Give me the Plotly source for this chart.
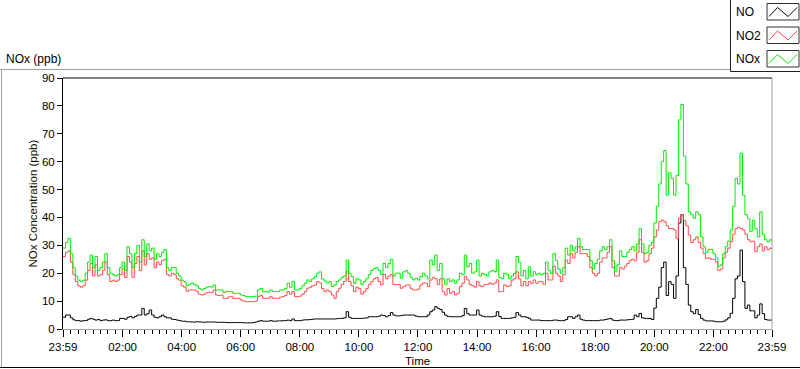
import pandas as pd
import plotly.graph_objects as go

# ---------------- data (5-minute readings, 23:59 -> 23:59) ----------------
start_time = "2024-01-01 23:59"
end_time = "2024-01-02 23:59"
step = "5min"

NOX = [
    29, 31, 32.5, 27, 22, 19, 17.5, 17, 17.5, 20, 24, 26.5, 22, 26, 21, 22, 24, 27, 22, 20, 19.5, 19, 19.5, 22,
    24, 21, 29.5, 27, 22, 27, 30, 24, 32, 26, 30.5, 28, 29, 25, 27, 26, 27.5, 28.5, 22, 21, 22, 22, 20, 19,
    17.5, 17, 15.5, 16, 16.5, 16, 15.5, 14.5, 14, 14.5, 15, 15.2, 15, 15.8, 14, 14, 14, 13, 13.5, 13.4, 13.4, 12.8,
    12.8, 12.8, 12.2, 12, 11.6, 11.6, 11.6, 11.6, 11.8, 14, 14.5, 13.4, 13.4, 13.2, 14, 13.4, 13.4, 13.4, 14, 14,
    14.5, 16.4, 15, 17, 14, 14,
    14.5,
    15.5, 16.4, 17.6, 17, 18, 18.8, 20, 20.5, 18, 17.2, 16.5, 17, 15.2, 15.8, 17, 17.6, 18.5, 19, 24.7, 20, 18.8,
    16.4, 18, 17.6, 16, 17, 18, 19.5, 21, 21.7, 22, 21, 19.6, 23.5, 22, 23.5, 25, 19, 20, 20, 18.2, 20.5, 21, 20,
    18.5, 17.6, 18.2, 17.6,
    18.8, 20, 19, 18, 24.7, 23, 26.5, 21, 23.5, 18, 16, 18, 17, 17.6, 16.4, 17.6, 20, 19.5, 26.5, 22.3, 23.5, 20,
    20.5, 24.7, 19, 20, 19.5, 19, 20.5, 21, 20.5, 24.7, 18.5, 18, 20, 19.6, 18, 19, 20, 26, 24, 19, 21, 18, 22.3,
    19, 20.5, 19.5, 20,
    19.4, 20, 24, 21, 20, 27, 24.5, 21.5, 20, 22, 29, 26.5, 30, 28, 29.5, 32.5, 29.5, 28.5, 28.5, 28.5, 24.5, 21.5,
    23.5, 25, 28, 29.5, 28.5, 29.5, 32, 24.5, 20.5, 23, 28, 26, 26, 27.5, 28.5, 29.5, 28, 30.5, 36, 30.5, 27, 27.5,
    30, 31, 38, 44, 52,
    60, 64, 48, 56, 54, 48, 55, 75, 80.5, 62, 52, 42, 41, 39.7, 42, 41, 33, 29.5, 27.5, 28.5, 28.5, 27, 25.5, 22.5,
    23, 27, 29.5, 31.5, 35.5, 44, 54, 52, 63, 48, 41, 39.5, 35, 39, 36, 33, 42, 34, 32, 31.3, 32, 31.3,
]

NO2 = [
    26, 27.5, 28, 24, 19.5, 17, 15.5, 15, 15.5, 17.5, 21, 23.5, 19, 23, 19, 19.5, 21, 24, 19.5, 17, 17.5, 17, 17.5,
    19.5, 21.5, 18.5, 26, 24, 18.5, 23.5, 26, 21, 28, 23, 27, 25, 25.5, 22, 24, 23, 24.5, 25, 19.5, 19, 20, 19.5,
    18, 17.5,
    15.5, 15, 13.5, 14, 14, 14, 13.5, 12.5, 12.2, 12.5, 13, 13.2, 13, 14, 12.2, 12, 12.2, 11, 11, 11.5, 11.6, 11,
    11, 11, 10.4, 10, 9.8, 9.8, 9.8, 9.8, 10, 11.6, 12, 11, 11, 11, 11.6, 11, 11, 11, 11.4, 11.6, 12, 13.4, 12.5,
    13.4, 11.6, 11.6,
    11.8,
    12.5, 13.4, 14.6, 15, 15.5, 15.8, 17, 16.5, 14.5, 13.4, 14, 13.4, 12.2, 11, 13.4, 14.6, 16, 17, 20.5, 17, 15.5,
    13.4, 15, 14.5, 12.5, 13.4, 14.5, 16, 17, 18, 18.5, 17, 15.8, 19.6, 18, 19, 19.6, 16, 15.8, 16, 14.6, 15.2,
    15.8, 15.8, 14.6, 14, 14, 14.3,
    15.8, 16.5, 16.5, 15.2, 17.6, 18.5, 18, 16, 18, 13.4, 12.2, 14.5, 12.8, 13.4, 12.2, 12.8, 15.2, 16.4, 18.8,
    17.6, 16, 15.5, 15, 17, 15.5, 15.2, 16, 16, 16.5, 16, 16.5, 17.6, 13.4, 13.4, 15.8, 15.2, 15.5, 17.5, 18, 20.5,
    18, 15.5, 17, 15.5, 17, 16.4, 17.6, 16.4, 17,
    17, 16, 20, 17.6, 17.6, 22.5, 20, 19, 17, 19.5, 24.7, 23.5, 27, 25.5, 27.5, 29.5, 27, 27, 27, 26, 22, 20, 19,
    20, 24, 25.5, 25.5, 27.5, 29.5, 22, 19, 19, 22, 21.5, 22.5, 23.5, 24.5, 25, 24.5, 27.5, 32, 27.5, 24, 24.5, 27,
    29, 33, 35.5, 38.5,
    39, 38.5, 37, 36, 36, 35.5, 32.5, 39.7, 41, 39, 37, 33.7, 31, 32, 33, 31, 29, 27, 25.3, 25.5, 25, 25, 24, 21,
    21.5, 25.5, 27.5, 29, 31.3, 34, 36, 36.5, 36, 35.5, 34, 32, 31.3, 31.5, 27.7, 29.5, 30.5, 28, 29.5, 28.5, 29,
    28.5,
]

NO = [
    4.2, 5, 5, 4, 3.3, 3, 3, 2.8, 3, 3, 3.5, 3.8, 3.5, 3.2, 3.4, 3, 3.2, 3.3, 3, 3, 3.2, 3, 3, 3.8, 3.8, 3.5, 4.2,
    4.5, 4, 4.5, 5, 5, 7.4, 5, 5.5, 6.8, 5, 4.2, 4, 4.4, 5, 4.4, 4, 4, 3.5, 3.4, 3.2, 3,
    2.8, 2.8, 2.6, 2.6, 2.5, 2.5, 2.6, 2.5, 2.5, 2.4, 2.5, 2.5, 2.5, 2.5, 2.4, 2.4, 2.4, 2.4, 2.3, 2.3, 2.3, 2.3,
    2.3, 2.3, 2.3, 2.2, 2.2, 2.2, 2.2, 2.3, 2.5, 2.8, 3, 2.8, 2.8, 2.8, 3, 2.8, 2.8, 2.9, 2.9, 3, 3, 3.2, 3, 3.6,
    3, 3,
    3,
    3.2, 3.3, 3.3, 3.4, 3.5, 3.6, 3.6, 3.6, 3.6, 3.6, 3.6, 3.6, 3.6, 3.6, 3.7, 3.8, 3.8, 4, 6.2, 4.2, 3.8, 3.8,
    3.8, 3.8, 3.8, 3.9, 4, 4.4, 4.4, 4.4, 4.4, 4.6, 5, 4.8, 4.4, 4.8, 5.9, 5, 4.7, 4.7, 4.8, 5, 5, 5, 5, 5, 4.6,
    4.4,
    4.4, 4.4, 4.4, 5, 6.2, 6.8, 8, 7.4, 7, 6, 5, 4.5, 4.4, 4.4, 4.4, 4.4, 4.4, 4.8, 7.4, 5.5, 5, 5, 5, 6.8, 5, 4.6,
    4.4, 4.4, 4.4, 4.4, 4.6, 6.2, 4.5, 3.8, 3.8, 3.8, 3.8, 4, 4.2, 5.9, 5, 4.4, 4.4, 4.2, 3.8, 3.2, 3.2, 3.2, 3.2,
    3, 3, 3, 3, 3, 3.2, 3.2, 3, 3, 3, 3.4, 4.4, 4.4, 3.8, 4.4, 5, 3.5, 3.2, 3, 3, 3, 3, 3, 3, 3.2, 3.2, 3.4, 3.6,
    3.8, 3.2, 3, 3, 3.2, 3.2, 3.2, 3.3, 3.4, 3.5, 5, 4.4, 5.6, 4, 3.8, 3.8, 3.8, 3.4, 7.5, 11, 15,
    22, 24, 12, 17, 16, 11, 19, 38, 41, 22, 16, 8.6, 6.2, 5.5, 7, 5.2, 3.8, 3.2, 2.9, 2.9, 2.9, 2.8, 2.6, 2.6, 2.6,
    2.8, 3.3, 4, 5.6, 11, 18, 19, 28.3, 17, 7.4, 8.6, 6.5, 6.5, 4, 5, 9, 5.5, 3.4, 3.2, 3.2, 3.2,
]

SERIES_NAMES = ["NO", "NO2", "NOx"]
TICK_TIMES = ["2024-01-01 23:59", "2024-01-02 02:00", "2024-01-02 04:00", "2024-01-02 06:00",
              "2024-01-02 08:00", "2024-01-02 10:00", "2024-01-02 12:00", "2024-01-02 14:00",
              "2024-01-02 16:00", "2024-01-02 18:00", "2024-01-02 20:00", "2024-01-02 22:00",
              "2024-01-02 23:59"]
TICK_LABELS = ["23:59", "02:00", "04:00", "06:00", "08:00", "10:00", "12:00", "14:00",
               "16:00", "18:00", "20:00", "22:00", "23:59"]
Y_TICKS = [0, 10, 20, 30, 40, 50, 60, 70, 80, 90]

times = pd.date_range(start_time, end_time, freq=step)

# ---------------- layout geometry ----------------
W, H = 800, 369
L, R, T, B = 63, 772, 78, 329   # plot area in pixels

def px(x):
    return (x - L) / (R - L)

def py(y):
    return (B - y) / (B - T)

FONT = "Liberation Sans"
COLORS = {"NO": "#000000", "NO2": "#ff4c4c", "NOx": "#00ee00"}

fig = go.Figure()
for name, vals in zip(SERIES_NAMES, [NO, NO2, NOX]):
    fig.add_trace(go.Scatter(x=times, y=vals, mode="lines", name=name,
                             line=dict(color=COLORS[name], width=1, shape="hv")))

shapes = []
# plot-area frame: top/left dark, right gray
shapes.append(dict(type="line", xref="paper", yref="paper", x0=0, x1=1, y0=1, y1=1,
                   line=dict(color="black", width=1)))
shapes.append(dict(type="line", xref="paper", yref="paper", x0=1, x1=1, y0=0, y1=1,
                   line=dict(color="#a0a0a0", width=1)))
# outer panel frame
shapes.append(dict(type="line", xref="paper", yref="paper", x0=px(0), x1=px(730), y0=py(69.5), y1=py(69.5),
                   line=dict(color="#a0a0a0", width=1)))
shapes.append(dict(type="line", xref="paper", yref="paper", x0=px(1.5), x1=px(1.5), y0=py(69.5), y1=py(368),
                   line=dict(color="#a0a0a0", width=1)))
shapes.append(dict(type="line", xref="paper", yref="paper", x0=px(0), x1=px(800), y0=py(367.5), y1=py(367.5),
                   line=dict(color="black", width=1)))
# legend box
shapes.append(dict(type="rect", xref="paper", yref="paper", x0=px(730.5), x1=px(801), y0=py(-2), y1=py(71.5),
                   line=dict(color="#202020", width=1), fillcolor="white"))

annotations = []
legend_rows = [(SERIES_NAMES[0], 3.5, 20), (SERIES_NAMES[1], 27, 43.5), (SERIES_NAMES[2], 50.5, 67)]
for name, yt, yb in legend_rows:
    annotations.append(dict(text=name, xref="paper", yref="paper", x=px(734), y=py((yt + yb) / 2 + 0.5),
                            xanchor="left", yanchor="middle", showarrow=False,
                            font=dict(family=FONT, size=12, color="black")))
    shapes.append(dict(type="rect", xref="paper", yref="paper", x0=px(767), x1=px(799), y0=py(yb), y1=py(yt),
                       line=dict(color="#303030", width=1), fillcolor="white"))
    path = "M {} {} L {} {} L {} {} L {} {}".format(
        px(769), py(yb - 3.5), px(777.5), py(yt + 4), px(788), py(yb - 3.5), px(797), py(yt + 4))
    shapes.append(dict(type="path", xref="paper", yref="paper", path=path,
                       line=dict(color=COLORS[name], width=1)))

annotations.append(dict(text="NOx (ppb)", xref="paper", yref="paper", x=px(4), y=py(58.5),
                        xanchor="left", yanchor="middle", showarrow=False,
                        font=dict(family=FONT, size=12, color="black")))
annotations.append(dict(text="NOx Concentration (ppb)", xref="paper", yref="paper", x=px(32), y=py(203.5),
                        xanchor="center", yanchor="middle", textangle=-90, showarrow=False,
                        font=dict(family=FONT, size=11.5, color="#1a1400")))
annotations.append(dict(text="Time", xref="paper", yref="paper", x=px(417), y=py(361),
                        xanchor="center", yanchor="middle", showarrow=False,
                        font=dict(family=FONT, size=11.5, color="black")))

fig.update_layout(
    width=W, height=H,
    margin=dict(l=L, r=W - R, t=T, b=H - B, pad=0),
    paper_bgcolor="white", plot_bgcolor="white",
    showlegend=False,
    font=dict(family=FONT, size=11.5, color="black"),
    shapes=shapes,
    annotations=annotations,
    xaxis=dict(
        type="date",
        range=[times[0], times[-1]],
        tickmode="array", tickvals=TICK_TIMES, ticktext=TICK_LABELS,
        ticks="outside", ticklen=7, tickwidth=1, tickcolor="black",
        showgrid=False, zeroline=False,
        showline=True, linecolor="#a0a0a0", linewidth=1,
        tickfont=dict(family=FONT, size=11.5, color="black"),
        minor=dict(ticks="outside", ticklen=4, tickcolor="black", tickwidth=1,
                   tickmode="linear", tick0="2024-01-02 00:00", dtick=15 * 60 * 1000,
                   showgrid=False),
    ),
    yaxis=dict(
        range=[0, 90],
        tickmode="array", tickvals=Y_TICKS,
        ticks="outside", ticklen=5, tickwidth=1, tickcolor="black",
        showgrid=False, zeroline=False,
        showline=True, linecolor="black", linewidth=1,
        tickfont=dict(family=FONT, size=11.5, color="black"),
    ),
)

fig.write_html("out.html", config={"displayModeBar": False},
               post_script="document.body.style.margin='0';document.body.style.overflow='hidden';")
